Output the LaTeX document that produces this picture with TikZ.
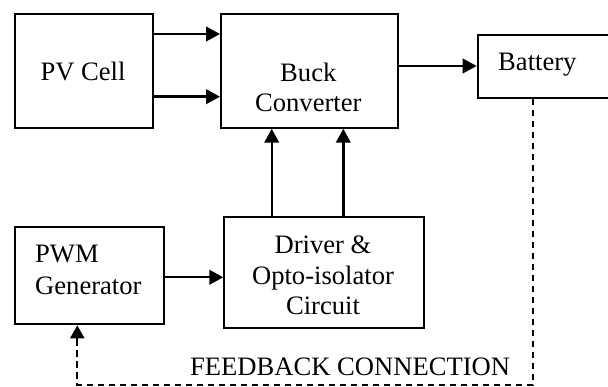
\documentclass[tikz,border=0pt]{standalone}
\usepackage{fontspec}
\setmainfont{Liberation Serif}
\usetikzlibrary{arrows.meta}

\tikzset{
  block/.style={draw, line width=2pt, rectangle, inner sep=0pt, anchor=north west},
  lbl/.style={inner sep=0pt, anchor=base, font=\fontsize{26.6}{30}\selectfont},
  arr/.style={line width=2.4pt, -{Triangle[length=14pt,width=14.5pt]}},
  fb/.style={line width=2pt, dash pattern=on 6.5pt off 4.5pt}
}

\begin{document}
\begin{tikzpicture}[x=1pt, y=-1pt]
\useasboundingbox (0,0) rectangle (608,387);

% blocks (north-west corner, size)
\node[block, minimum width=137.4pt, minimum height=113.4pt] (pv)      at (14.3,13.3)  {};
\node[block, minimum width=176.7pt, minimum height=113.4pt] (buck)    at (220,13.3)   {};
\node[block, minimum width=133.3pt, minimum height=62.7pt]  (battery) at (476.7,34)   {};
\node[block, minimum width=149pt,   minimum height=97.3pt]  (pwm)     at (14.3,226)   {};
\node[block, minimum width=199.4pt, minimum height=111.3pt] (driver)  at (223.3,216)  {};

% block texts
\node[lbl] (pvtxt)    at (83,81)       {PV Cell};
\node[lbl] (bucktxt)  at (308.3,81.7)  {Buck};
\node[lbl] (convtxt)  at (308.3,111.7) {Converter};
\node[lbl, anchor=base west] (battxt) at (498,70.7) {Battery};
\node[lbl, anchor=base west] (pwmtxt) at (35,262.7) {PWM};
\node[lbl, anchor=base west] (gentxt) at (35,294.3) {Generator};
\node[lbl] (drvtxt)   at (323,253.3)   {Driver \&};
\node[lbl] (optotxt)  at (323,284.3)   {Opto-isolator};
\node[lbl] (circtxt)  at (323,315)     {Circuit};
\node[lbl, anchor=base west] (fbtxt) at (190,376) {FEEDBACK CONNECTION};

% power path
\draw[arr] (pv.east |- 0,34)   -- (buck.west |- 0,34);
\draw[arr] (pv.east |- 0,96.7) -- (buck.west |- 0,96.7);
\draw[arr] (buck.east |- 0,66) -- (battery.west |- 0,66);

% gate drive path
\draw[arr] (pwm.east |- 0,277.3) -- (driver.west |- 0,277.3);
\draw[arr] (driver.north -| 271.7,0) -- (buck.south -| 271.7,0);
\draw[arr] (driver.north -| 343.3,0) -- (buck.south -| 343.3,0);

% feedback from the battery to the PWM generator
\coordinate (fbcorner) at (532.7,385);
\coordinate (fbleft) at (77.3,385);
\draw[fb] (battery.south -| fbcorner) -- (fbcorner) -- (fbleft) -- (pwm.south -| fbleft);
\draw[line width=2pt, -{Triangle[length=13pt,width=14pt]}] (fbleft |- 0,338) -- (pwm.south -| fbleft);
\end{tikzpicture}
\end{document}
